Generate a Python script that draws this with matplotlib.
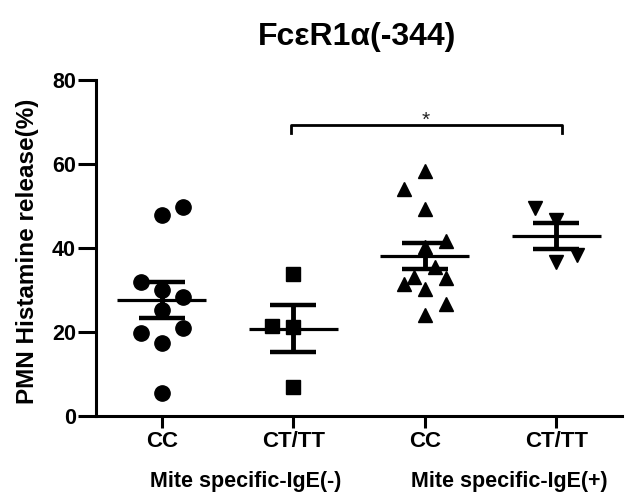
import numpy as np
import matplotlib
matplotlib.use("Agg")
import matplotlib.pyplot as plt
from matplotlib.transforms import blended_transform_factory

plt.rcParams["font.family"] = ["Liberation Sans", "DejaVu Sans"]
plt.rcParams["font.weight"] = "bold"

# genotype groups and histamine release (%)
groups = ["CC", "CT/TT", "CC", "CT/TT"]
igE_labels = ["Mite specific-IgE(-)", "Mite specific-IgE(+)"]

cc_neg = [47.9, 49.8, 31.9, 30.0, 28.3, 25.2, 19.8, 21.0, 17.4, 5.5]
ct_neg = [33.8, 21.4, 21.2, 6.9]
cc_pos = [58.3, 54.0, 49.3, 41.7, 40.2, 35.5, 33.1, 31.4, 32.9, 30.2, 26.7, 24.0]
ct_pos = [49.5, 46.7, 38.3, 36.7]

# column slot of each point in the scatter (GraphPad style spreading)
cols_cc_neg = [0, 1, -1, 0, 1, 0, -1, 1, 0, 0]
cols_ct_neg = [0, -1, 0, 0]
cols_cc_pos = [0, -1, 0, 1, 0, 0.5, -0.5, -1, 1, 0, 1, 0]
cols_ct_pos = [-1, 0, 1, 0]

data = [cc_neg, ct_neg, cc_pos, ct_pos]
cols = [cols_cc_neg, cols_ct_neg, cols_cc_pos, cols_ct_pos]
markers = ["o", "s", "^", "v"]
msizes = [11, 10.5, 10.5, 10.5]

spread = 0.16
mean_hw = 0.34
cap_hw = 0.175

fig = plt.figure(figsize=(6.3, 4.93), dpi=100)
ax = fig.add_axes([0.1524, 0.1562, 0.8349, 0.6815])

for i, (vals, cc, m, ms) in enumerate(zip(data, cols, markers, msizes)):
    vals = np.array(vals)
    xs = i + spread * np.array(cc)
    ax.plot(xs, vals, ls="none", marker=m, ms=ms, color="black", zorder=2)
    mean = vals.mean()
    sem = vals.std(ddof=1) / np.sqrt(len(vals))
    ax.hlines(mean, i - mean_hw, i + mean_hw, color="black", lw=2.3, zorder=3)
    ax.vlines(i, mean - sem, mean + sem, color="black", lw=3.5, zorder=3)
    ax.hlines([mean - sem, mean + sem], i - cap_hw, i + cap_hw,
              color="black", lw=3.2, zorder=3)

# significance bracket between CT/TT(-) and CT/TT(+)
bx0, bx1, by, bdrop = 0.98, 3.04, 69.3, 2.0
ax.plot([bx0, bx0, bx1, bx1], [by - bdrop, by, by, by - bdrop],
        color="black", lw=2.0, solid_joinstyle="round", clip_on=False)
ax.text((bx0 + bx1) / 2, by - 0.3, "*", ha="center", va="baseline",
        fontsize=15, fontweight="normal", color="#222222")

ax.set_xlim(-0.5, 3.5)
ax.set_ylim(0, 80)
ax.set_yticks([0, 20, 40, 60, 80])
ax.set_xticks(range(len(groups)))
ax.set_xticklabels(groups)

for s in ["top", "right"]:
    ax.spines[s].set_visible(False)
for s in ["left", "bottom"]:
    ax.spines[s].set_linewidth(2.2)

ax.tick_params(axis="y", length=13, width=2.2, pad=1.5, labelsize=15.5)
ax.tick_params(axis="x", length=8.5, width=2.2, pad=2, labelsize=16)

ax.set_ylabel("PMN Histamine release(%)", fontsize=17.5, fontweight="bold")
ax.yaxis.set_label_coords(-0.108, 0.49)

btrans = blended_transform_factory(ax.transData, fig.transFigure)
for k, lab in enumerate(igE_labels):
    ax.text(2 * k + 0.64, 0.013, lab, transform=btrans,
            ha="center", va="baseline", fontsize=15.5, fontweight="bold")

fig.text(0.567, 0.925, "FcεR1α(-344)", ha="center", va="center",
         fontsize=23, fontweight="bold")

fig.savefig("out.png", dpi=100)
